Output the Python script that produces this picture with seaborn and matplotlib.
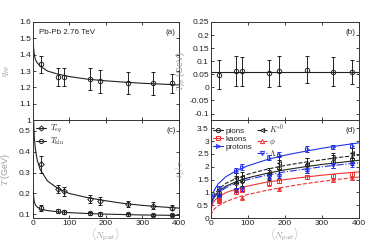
import numpy as np
import pandas as pd
import matplotlib
matplotlib.use("Agg")
import matplotlib.pyplot as plt
from matplotlib.lines import Line2D
import seaborn as sns

# centrality classes (mean number of participants)
npart = [22, 69, 85, 157, 184, 260, 330, 382]

# (a) q parameter
q_val = [1.34, 1.265, 1.263, 1.25, 1.236, 1.226, 1.226, 1.224]
q_err = [0.05, 0.055, 0.055, 0.068, 0.07, 0.065, 0.07, 0.058]
q_fit_x = [0.5, 2, 4, 7, 12, 20, 40, 70, 100, 150, 200, 250, 300, 350, 400]
q_fit_y = [1.52, 1.44, 1.40, 1.37, 1.35, 1.33, 1.30, 1.28, 1.266, 1.25, 1.24, 1.232, 1.225, 1.22, 1.215]

# (b) T_pp
tpp_val = [0.048, 0.062, 0.062, 0.053, 0.063, 0.068, 0.06, 0.058]
tpp_err = [0.055, 0.058, 0.055, 0.053, 0.058, 0.052, 0.055, 0.047]
tpp_fit = 0.06

# (c) temperatures
teq_val = [0.34, 0.22, 0.21, 0.172, 0.165, 0.15, 0.142, 0.132]
teq_err = [0.04, 0.02, 0.02, 0.02, 0.02, 0.015, 0.015, 0.013]
tkin_val = [0.13, 0.115, 0.112, 0.105, 0.102, 0.1, 0.097, 0.097]
tkin_err = [0.015, 0.01, 0.008, 0.008, 0.008, 0.006, 0.006, 0.006]
t_fit_x = [0.5, 2, 4, 7, 12, 20, 40, 70, 100, 150, 200, 250, 300, 350, 400]
teq_fit = [0.62, 0.55, 0.47, 0.41, 0.36, 0.315, 0.26, 0.222, 0.2, 0.18, 0.165, 0.152, 0.143, 0.136, 0.13]
tkin_fit = [0.24, 0.19, 0.16, 0.145, 0.135, 0.126, 0.118, 0.112, 0.108, 0.104, 0.101, 0.099, 0.097, 0.096, 0.095]

# (d) freeze-out times
pion_val = [0.85, 1.38, 1.45, 1.68, 1.95, 2.05, 2.2, 2.3]
pion_err = [0.1, 0.25, 0.2, 0.2, 0.3, 0.3, 0.25, 0.25]
kaon_val = [0.7, 1.0, 1.1, 1.35, 1.45, 1.6, 1.65, 1.7]
kaon_err = [0.05, 0.06, 0.08, 0.08, 0.08, 0.08, 0.08, 0.08]
proton_val = [1.17, 1.84, 1.99, 2.36, 2.47, 2.69, 2.77, 2.82]
proton_err = [0.08, 0.1, 0.1, 0.1, 0.1, 0.1, 0.08, 0.1]
kstar_x = [22, 69, 85, 157, 184, 260, 330, 382]
kstar_val = [0.95, 1.55, 1.6, 1.75, 2.15, 2.1, 2.35, 2.55]
kstar_err = [0.1, 0.2, 0.2, 0.2, 0.25, 0.25, 0.2, 0.2]
phi_x = [22, 85, 184, 330, 382]
phi_val = [0.65, 0.8, 1.12, 1.48, 1.55]
phi_err = [0.05, 0.05, 0.05, 0.06, 0.06]
lam_val = [0.85, 1.1, 1.15, 1.6, 1.65, 1.85, 2.05, 2.1]
lam_err = [0.06, 0.08, 0.08, 0.08, 0.08, 0.1, 0.1, 0.1]

tf_x = [0.5, 2, 5, 10, 20, 40, 70, 100, 150, 200, 250, 300, 350, 400]
pion_fit = [0.35, 0.57, 0.72, 0.86, 1.03, 1.24, 1.43, 1.57, 1.74, 1.88, 1.99, 2.09, 2.17, 2.25]
kaon_fit = [0.28, 0.45, 0.58, 0.69, 0.83, 0.99, 1.14, 1.25, 1.40, 1.50, 1.59, 1.67, 1.74, 1.80]
proton_fit = [0.45, 0.74, 0.94, 1.12, 1.34, 1.61, 1.86, 2.04, 2.27, 2.45, 2.59, 2.72, 2.83, 2.93]
kstar_fit = [0.38, 0.62, 0.78, 0.94, 1.12, 1.35, 1.56, 1.71, 1.90, 2.05, 2.17, 2.27, 2.37, 2.45]
phi_fit = [0.1, 0.19, 0.28, 0.37, 0.48, 0.64, 0.80, 0.92, 1.08, 1.21, 1.33, 1.43, 1.52, 1.60]
lam_fit = [0.33, 0.54, 0.69, 0.82, 0.99, 1.18, 1.37, 1.50, 1.67, 1.80, 1.90, 2.00, 2.08, 2.15]

sns.set_style("ticks")
plt.rcParams["font.family"] = ["Liberation Sans", "DejaVu Sans"]
plt.rcParams["mathtext.fontset"] = "cm"
plt.rcParams["font.size"] = 6
plt.rcParams["axes.linewidth"] = 0.7
plt.rcParams["xtick.direction"] = "in"
plt.rcParams["ytick.direction"] = "in"
plt.rcParams["xtick.major.size"] = 2.2
plt.rcParams["ytick.major.size"] = 2.2
plt.rcParams["xtick.labelsize"] = 6
plt.rcParams["ytick.labelsize"] = 6

LABEL_COLOR = "#9a9a9a"
BLUE = "#2233ee"
RED = "#ee3333"
INK = "#222222"

fig = plt.figure(figsize=(3.65, 2.47), dpi=100)
ax_a = fig.add_axes([0.090, 0.514, 0.400, 0.397])
ax_b = fig.add_axes([0.578, 0.514, 0.405, 0.397])
ax_c = fig.add_axes([0.090, 0.117, 0.400, 0.397])
ax_d = fig.add_axes([0.578, 0.117, 0.405, 0.397])


def points(ax, x, y, err, marker, color, ms=3.2):
    ax.errorbar(x, y, yerr=err, fmt=marker, color=color, mfc="none", mec=color,
                ms=ms, mew=0.7, elinewidth=0.7, capsize=1.3, capthick=0.7)


def curve(ax, x, y, color, ls="-"):
    df = pd.DataFrame({"x": x, "y": y})
    sns.lineplot(data=df, x="x", y="y", ax=ax, color=color, lw=0.8, linestyle=ls)


def handle(marker, color, ls="-", ms=3.0):
    return Line2D([], [], color=color, ls=ls, lw=0.8, marker=marker, mfc="none",
                  mec=color, ms=ms, mew=0.7)


# (a)
curve(ax_a, q_fit_x, q_fit_y, INK)
points(ax_a, npart, q_val, q_err, "o", INK)
ax_a.set_ylim(1.0, 1.6)
ax_a.set_yticks([1, 1.1, 1.2, 1.3, 1.4, 1.5, 1.6])
ax_a.set_yticklabels(["1", "1.1", "1.2", "1.3", "1.4", "1.5", "1.6"])
ax_a.set_ylabel(r"$q_{pp}$", color=LABEL_COLOR, fontsize=6.5)
ax_a.text(0.04, 0.93, "Pb-Pb 2.76 TeV", transform=ax_a.transAxes, fontsize=5.8, va="top")
ax_a.text(0.98, 0.93, "(a)", transform=ax_a.transAxes, fontsize=5.8, va="top", ha="right")

# (b)
ax_b.axhline(tpp_fit, color=INK, lw=0.8)
points(ax_b, npart, tpp_val, tpp_err, "o", INK)
ax_b.set_ylim(-0.125, 0.25)
ax_b.set_yticks([-0.1, -0.05, 0, 0.05, 0.1, 0.15, 0.2, 0.25])
ax_b.set_yticklabels(["-0.1", "-0.05", "0", "0.05", "0.1", "0.15", "0.2", "0.25"])
ax_b.set_ylabel(r"$T_{pp}$ (GeV)", color=LABEL_COLOR, fontsize=6.5)
ax_b.text(0.98, 0.93, "(b)", transform=ax_b.transAxes, fontsize=5.8, va="top", ha="right")

# (c)
curve(ax_c, t_fit_x, teq_fit, INK)
curve(ax_c, t_fit_x, tkin_fit, INK)
points(ax_c, npart, teq_val, teq_err, "D", INK, ms=2.8)
points(ax_c, npart, tkin_val, tkin_err, "o", INK)
ax_c.set_ylim(0.082, 0.552)
ax_c.set_yticks([0.1, 0.2, 0.3, 0.4, 0.5])
ax_c.set_ylabel(r"$T$ (GeV)", color=LABEL_COLOR, fontsize=6.5)
ax_c.text(0.98, 0.93, "(c)", transform=ax_c.transAxes, fontsize=5.8, va="top", ha="right")
ax_c.legend([handle("D", INK, ms=2.6), handle("o", INK)], [r"$T_{eq}$", r"$T_{\rm kin}$"],
            loc="upper left", frameon=False, fontsize=6,
            handlelength=1.2, handletextpad=0.4, labelspacing=0.05, borderaxespad=0.2,
            borderpad=0.2)

# (d)
curve(ax_d, tf_x, pion_fit, INK)
curve(ax_d, tf_x, kaon_fit, RED)
curve(ax_d, tf_x, proton_fit, BLUE)
curve(ax_d, tf_x, kstar_fit, INK, "--")
curve(ax_d, tf_x, phi_fit, RED, "--")
curve(ax_d, tf_x, lam_fit, BLUE, "-.")
points(ax_d, npart, pion_val, pion_err, "o", INK, ms=2.8)
points(ax_d, npart, kaon_val, kaon_err, "s", RED, ms=2.8)
points(ax_d, npart, proton_val, proton_err, ">", BLUE, ms=2.8)
points(ax_d, kstar_x, kstar_val, kstar_err, "<", INK, ms=2.8)
points(ax_d, phi_x, phi_val, phi_err, "^", RED, ms=2.8)
points(ax_d, npart, lam_val, lam_err, "v", BLUE, ms=2.8)
ax_d.set_ylim(0, 3.82)
ax_d.set_yticks([0, 0.5, 1, 1.5, 2, 2.5, 3, 3.5])
ax_d.set_yticklabels(["0", "0.5", "1", "1.5", "2", "2.5", "3", "3.5"])
ax_d.set_ylabel(r"$t_f/\tau$", color=LABEL_COLOR, fontsize=6.5)
ax_d.text(0.98, 0.93, "(d)", transform=ax_d.transAxes, fontsize=5.8, va="top", ha="right")
d_handles = [handle("o", INK), handle("s", RED), handle(">", BLUE),
             handle("<", INK, "--"), handle("^", RED, "--"), handle("v", BLUE, "-.")]
d_labels = ["pions", "kaons", "protons", r"$K^{*0}$", r"$\phi$", r"$\Lambda$"]
ax_d.legend(d_handles, d_labels, loc="upper left", ncol=2, frameon=False, fontsize=5.8,
            handlelength=1.2, handletextpad=0.3, labelspacing=0.05, columnspacing=0.6,
            borderaxespad=0.1, borderpad=0.2)

# y-label positions as in the reference
ax_a.yaxis.set_label_coords(-0.145, 0.5)
ax_c.yaxis.set_label_coords(-0.145, 0.5)
ax_b.yaxis.set_label_coords(-0.155, 0.5)
ax_d.yaxis.set_label_coords(-0.155, 0.5)

for ax in (ax_a, ax_b, ax_c, ax_d):
    ax.set_xlim(0, 400)
    ax.set_xticks([0, 100, 200, 300, 400])
    ax.tick_params(top=True, right=True, colors=INK, pad=1.5, width=0.6)
    for s in ax.spines.values():
        s.set_color("#333333")
    ax.set_xlabel("")

for ax in (ax_a, ax_b):
    ax.set_xticklabels([])

for ax in (ax_c, ax_d):
    ax.set_xticklabels(["0", "100", "200", "300", "400"])
    ax.set_xlabel(r"$\langle N_{\rm part}\rangle$", color=LABEL_COLOR, fontsize=6.5, labelpad=0)

fig.savefig("out.png", dpi=100)
